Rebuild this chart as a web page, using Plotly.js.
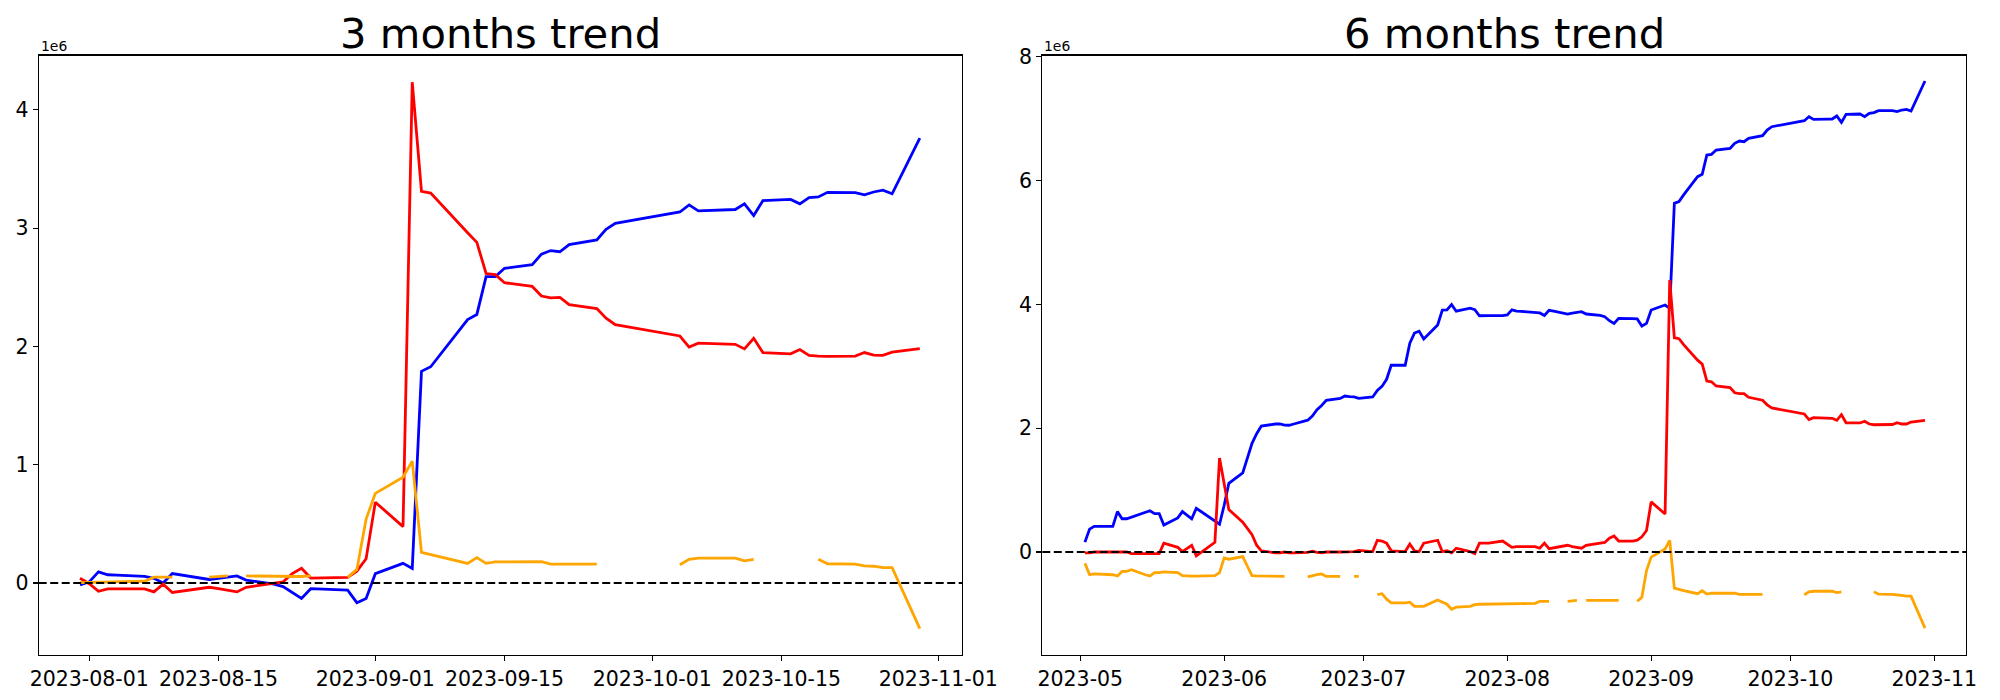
<!DOCTYPE html>
<html>
<head>
<meta charset="utf-8">
<script src="https://cdn.plot.ly/plotly-3.0.1.min.js"></script>
<style>html,body{margin:0;padding:0;background:#fff;}#chart{width:2000px;height:700px;}</style>
</head>
<body>
<div id="chart"></div>
<script>
// ---------- 3 months chart (values in millions) ----------
const dates3m = [
  "2023-07-31",
  "2023-08-01","2023-08-02","2023-08-03","2023-08-04","2023-08-07","2023-08-08","2023-08-09","2023-08-10","2023-08-11",
  "2023-08-14","2023-08-15","2023-08-16","2023-08-17","2023-08-18","2023-08-21","2023-08-22","2023-08-23","2023-08-24","2023-08-25",
  "2023-08-28","2023-08-29","2023-08-30","2023-08-31",
  "2023-09-01","2023-09-04","2023-09-05","2023-09-06","2023-09-07","2023-09-08","2023-09-11","2023-09-12","2023-09-13","2023-09-14",
  "2023-09-15","2023-09-18","2023-09-19","2023-09-20","2023-09-21","2023-09-22","2023-09-25","2023-09-26","2023-09-27",
  "2023-10-04","2023-10-05","2023-10-06","2023-10-09","2023-10-10","2023-10-11","2023-10-12","2023-10-13","2023-10-16","2023-10-17",
  "2023-10-18","2023-10-19","2023-10-20","2023-10-23","2023-10-24","2023-10-25","2023-10-26","2023-10-27","2023-10-30"
];
const blue3m = [
  -0.015,
  0.01,0.094,0.07,0.066,0.057,0.04,0.0,0.08,0.066,0.03,0.04,0.05,0.06,0.025,-0.01,-0.03,-0.08,-0.13,-0.048,-0.055,-0.06,-0.166,-0.13,
  0.079,0.166,0.124,1.789,1.828,1.927,2.227,2.27,2.59,2.59,2.66,2.69,2.78,2.81,2.80,2.86,2.90,2.99,3.04,
  3.136,3.196,3.145,3.154,3.157,3.205,3.106,3.233,3.242,3.205,3.257,3.263,3.302,3.299,3.281,3.305,3.32,3.29,3.761
];
const red3m = [
  0.04,
  -0.006,-0.07,-0.05,-0.05,-0.05,-0.075,-0.01,-0.08,-0.07,-0.036,-0.048,-0.063,-0.075,-0.036,-0.006,0.01,0.08,0.124,0.042,0.045,0.048,0.1,0.205,
  0.683,0.477,4.233,3.31,3.296,3.21,2.96,2.879,2.616,2.607,2.538,2.507,2.426,2.41,2.414,2.353,2.32,2.239,2.184,
  2.088,1.994,2.027,2.022,2.018,1.979,2.069,1.948,1.937,1.973,1.924,1.918,1.915,1.918,1.948,1.927,1.924,1.951,1.982
];
const orange3m = [
  0.003,
  0.005,0.008,0.01,0.012,0.015,0.05,0.05,0.05,null,0.05,0.055,0.06,null,0.06,0.057,0.055,0.055,0.055,0.06,null,0.048,0.115,0.54,
  0.758,0.894,1.03,0.26,0.24,0.22,0.166,0.215,0.166,0.178,0.178,0.181,0.181,0.16,0.16,0.16,0.16,null,null,
  0.154,0.2,0.21,0.21,0.21,0.187,0.2,null,null,null,null,0.202,0.163,0.16,0.145,0.142,0.13,0.13,-0.385
];
const xTicks3m = ["2023-08-01","2023-08-15","2023-09-01","2023-09-15","2023-10-01","2023-10-15","2023-11-01"];
const xTickText3m = ["2023-08-01","2023-08-15","2023-09-01","2023-09-15","2023-10-01","2023-10-15","2023-11-01"];
const yTicks3m = [0,1,2,3,4];

// ---------- 6 months chart (values in millions) ----------
const dates6m = [
  "2023-05-02","2023-05-03","2023-05-04","2023-05-05","2023-05-08","2023-05-09","2023-05-10","2023-05-11","2023-05-12","2023-05-15","2023-05-16",
  "2023-05-17","2023-05-18","2023-05-19","2023-05-22","2023-05-23","2023-05-24","2023-05-25","2023-05-26","2023-05-29","2023-05-30","2023-05-31",
  "2023-06-01","2023-06-02","2023-06-05","2023-06-06","2023-06-07","2023-06-08","2023-06-09","2023-06-12","2023-06-13","2023-06-14","2023-06-15",
  "2023-06-16","2023-06-19","2023-06-20","2023-06-21","2023-06-22","2023-06-23","2023-06-26","2023-06-27","2023-06-28","2023-06-29","2023-06-30",
  "2023-07-03","2023-07-04","2023-07-05","2023-07-06","2023-07-07","2023-07-10","2023-07-11","2023-07-12","2023-07-13","2023-07-14","2023-07-17",
  "2023-07-18","2023-07-19","2023-07-20","2023-07-21","2023-07-24","2023-07-25","2023-07-26","2023-07-27","2023-07-28","2023-07-31",
  "2023-08-01","2023-08-02","2023-08-03","2023-08-04","2023-08-07","2023-08-08","2023-08-09","2023-08-10","2023-08-11","2023-08-14","2023-08-15",
  "2023-08-16","2023-08-17","2023-08-18","2023-08-21","2023-08-22","2023-08-23","2023-08-24","2023-08-25","2023-08-28","2023-08-29","2023-08-30","2023-08-31",
  "2023-09-01","2023-09-04","2023-09-05","2023-09-06","2023-09-07","2023-09-08","2023-09-11","2023-09-12","2023-09-13","2023-09-14","2023-09-15",
  "2023-09-18","2023-09-19","2023-09-20","2023-09-21","2023-09-22","2023-09-25","2023-09-26","2023-09-27",
  "2023-10-04","2023-10-05","2023-10-06","2023-10-09","2023-10-10","2023-10-11","2023-10-12","2023-10-13","2023-10-16","2023-10-17",
  "2023-10-18","2023-10-19","2023-10-20","2023-10-23","2023-10-24","2023-10-25","2023-10-26","2023-10-27","2023-10-30"
];
const blue6m = [
  0.16,0.37,0.415,0.415,0.415,0.653,0.537,0.537,0.565,0.64,0.667,0.619,0.619,0.435,0.551,0.653,0.6,0.537,0.707,0.55,0.497,0.449,
  0.755,1.109,1.279,1.537,1.755,1.912,2.034,2.068,2.068,2.05,2.048,2.068,2.13,2.197,2.3,2.367,2.45,2.48,2.52,2.51,2.505,2.483,
  2.505,2.61,2.675,2.79,3.017,3.017,3.372,3.537,3.568,3.44,3.667,3.908,3.91,3.997,3.89,3.938,3.915,3.817,3.82,3.82,3.818,
  3.83,3.912,3.893,3.888,3.877,3.862,3.822,3.905,3.89,3.845,3.861,3.871,3.883,3.845,3.823,3.802,3.737,3.694,3.775,3.77,3.765,3.651,3.694,
  3.91,3.99,3.936,5.633,5.66,5.77,6.063,6.101,6.414,6.424,6.494,6.521,6.602,6.64,6.629,6.683,6.726,6.817,6.871,
  6.968,7.033,6.99,6.995,6.995,7.044,6.941,7.07,7.076,7.033,7.087,7.098,7.13,7.13,7.114,7.14,7.151,7.124,7.609
];
const red6m = [
  -0.014,-0.014,0.0,0.0,0.0,0.0,0.0,0.0,-0.027,-0.03,-0.034,-0.034,-0.027,0.143,0.075,0.007,0.06,0.109,-0.061,0.1,0.156,1.517,
  1.1,0.687,0.483,0.38,0.28,0.109,0.02,-0.014,-0.014,0.0,-0.014,-0.014,-0.007,0.014,-0.007,-0.014,0.0,0.0,0.0,0.0,0.007,0.027,
  0.007,0.19,0.177,0.143,0.02,0.007,0.129,0.02,0.007,0.143,0.19,0.007,0.02,-0.014,0.061,0.007,-0.027,0.143,0.143,0.143,0.177,
  0.13,0.075,0.088,0.088,0.088,0.061,0.143,0.054,0.068,0.109,0.088,0.075,0.061,0.109,0.135,0.155,0.224,0.259,0.177,0.177,0.19,0.245,0.347,
  0.81,0.614,4.394,3.462,3.447,3.35,3.1,3.035,2.762,2.75,2.682,2.655,2.572,2.56,2.56,2.5,2.452,2.378,2.327,
  2.23,2.14,2.17,2.163,2.16,2.127,2.218,2.088,2.085,2.112,2.068,2.056,2.056,2.06,2.09,2.068,2.068,2.1,2.127
];
const orange6m = [
  -0.184,-0.367,-0.354,-0.36,-0.367,-0.388,-0.313,-0.313,-0.286,-0.367,-0.388,-0.333,-0.333,-0.32,-0.333,-0.381,-0.388,-0.388,-0.388,-0.388,-0.381,-0.333,
  -0.095,-0.116,-0.075,-0.23,-0.381,-0.385,-0.388,-0.395,-0.395,-0.395,null,null,-0.401,-0.381,-0.367,-0.354,-0.395,-0.395,null,null,-0.395,-0.395,
  null,-0.687,-0.673,-0.762,-0.823,-0.823,-0.81,-0.878,-0.878,-0.878,-0.776,-0.81,-0.844,-0.925,-0.891,-0.878,-0.85,-0.844,-0.844,-0.844,-0.844,
  -0.84,-0.838,-0.835,-0.833,-0.83,-0.796,-0.796,-0.796,null,-0.796,-0.787,-0.782,null,-0.782,-0.785,-0.787,-0.787,-0.787,-0.782,null,-0.796,-0.73,-0.30,
  -0.082,0.05,0.186,-0.585,-0.6,-0.625,-0.673,-0.626,-0.68,-0.666,-0.666,-0.663,-0.663,-0.684,-0.684,-0.684,-0.684,null,null,
  -0.69,-0.644,-0.634,-0.634,-0.634,-0.657,-0.644,null,null,null,null,-0.642,-0.681,-0.684,-0.699,-0.702,-0.714,-0.714,-1.229
];
const xTicks6m = ["2023-05-01","2023-06-01","2023-07-01","2023-08-01","2023-09-01","2023-10-01","2023-11-01"];
const xTickText6m = ["2023-05","2023-06","2023-07","2023-08","2023-09","2023-10","2023-11"];
const yTicks6m = [0,2,4,6,8];

const titles = ["3 months trend", "6 months trend"];
const offsetLabel = "1e6";

const FONT = "DejaVu Sans, Liberation Sans, sans-serif";
const LW = 2.8;

function tr(x, y, color, xa, ya) {
  return {x: x, y: y, type: "scatter", mode: "lines", xaxis: xa, yaxis: ya,
          line: {color: color, width: LW}, connectgaps: false, showlegend: false, hoverinfo: "skip"};
}

const data = [
  tr(dates3m, blue3m, "#0000ff", "x", "y"),
  tr(dates3m, red3m, "#ff0000", "x", "y"),
  tr(dates3m, orange3m, "#ffa500", "x", "y"),
  tr(dates6m, blue6m, "#0000ff", "x2", "y2"),
  tr(dates6m, red6m, "#ff0000", "x2", "y2"),
  tr(dates6m, orange6m, "#ffa500", "x2", "y2")
];

const axBase = {
  showgrid: false, zeroline: false, showline: true, mirror: true,
  linecolor: "#000", linewidth: 1.1, ticks: "outside", ticklen: 5, tickwidth: 1.1, tickcolor: "#000",
  tickfont: {family: FONT, size: 20.5, color: "#000"}, fixedrange: true
};

const yDom = [0.064, 0.9206];
const layout = {
  width: 2000, height: 700,
  margin: {l: 0, r: 0, t: 0, b: 0, pad: 0},
  paper_bgcolor: "#fff", plot_bgcolor: "#fff",
  font: {family: FONT, color: "#000"},
  xaxis: Object.assign({}, axBase, {domain: [0.01935, 0.48115], type: "date", anchor: "y",
    range: ["2023-07-26 12:30", "2023-11-03 14:30"], tickmode: "array", tickvals: xTicks3m, ticktext: xTickText3m}),
  yaxis: Object.assign({}, axBase, {domain: yDom, anchor: "x", range: [-0.610, 4.458],
    tickmode: "array", tickvals: yTicks3m, ticktext: yTicks3m.map(String)}),
  xaxis2: Object.assign({}, axBase, {domain: [0.52115, 0.98315], type: "date", anchor: "y2",
    range: ["2023-04-22 19:30", "2023-11-07 21:40"], tickmode: "array", tickvals: xTicks6m, ticktext: xTickText6m}),
  yaxis2: Object.assign({}, axBase, {domain: yDom, anchor: "x2", range: [-1.667, 8.02],
    tickmode: "array", tickvals: yTicks6m, ticktext: yTicks6m.map(String)}),
  shapes: [
    {type: "line", xref: "x domain", yref: "y", x0: 0, x1: 1, y0: 0, y1: 0, layer: "above",
     line: {color: "#000", width: 2, dash: "8px,3.5px"}},
    {type: "line", xref: "x2 domain", yref: "y2", x0: 0, x1: 1, y0: 0, y1: 0, layer: "above",
     line: {color: "#000", width: 2, dash: "8px,3.5px"}}
  ],
  annotations: [
    {text: titles[0], xref: "paper", yref: "paper", x: 0.25025, y: 0.914, xanchor: "center", yanchor: "bottom",
     showarrow: false, font: {family: FONT, size: 41.7, color: "#000"}},
    {text: titles[1], xref: "paper", yref: "paper", x: 0.75215, y: 0.914, xanchor: "center", yanchor: "bottom",
     showarrow: false, font: {family: FONT, size: 41.7, color: "#000"}},
    {text: offsetLabel, xref: "paper", yref: "paper", x: 0.01935, y: 0.9206, xanchor: "left", yanchor: "bottom",
     showarrow: false, font: {family: FONT, size: 13.9, color: "#000"}},
    {text: offsetLabel, xref: "paper", yref: "paper", x: 0.52115, y: 0.9206, xanchor: "left", yanchor: "bottom",
     showarrow: false, font: {family: FONT, size: 13.9, color: "#000"}}
  ]
};

Plotly.newPlot("chart", data, layout, {displayModeBar: false, staticPlot: true});
</script>
</body>
</html>
